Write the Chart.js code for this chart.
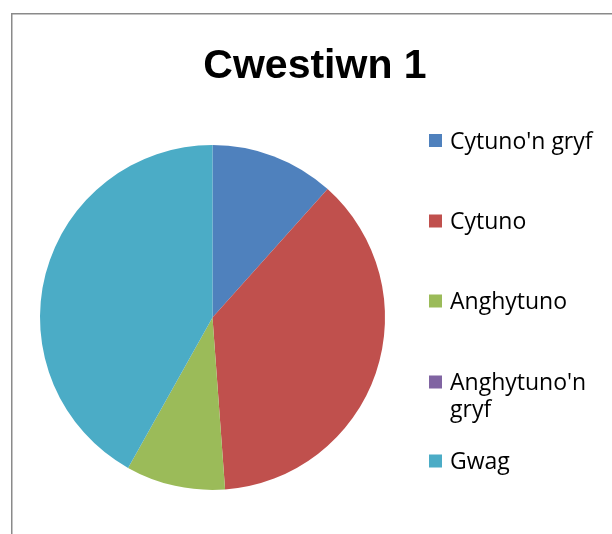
<!DOCTYPE html>
<html>
<head>
<meta charset="utf-8">
<script src="https://cdn.jsdelivr.net/npm/chart.js@4/dist/chart.umd.min.js"></script>
<style>
html,body{margin:0;padding:0;background:#fff;}
#wrap{position:relative;width:612px;height:534px;}
</style>
</head>
<body>
<div id="wrap"><canvas id="c" width="612" height="534"></canvas></div>
<script>
const chartTitle = "Cwestiwn 1";
const categories = ["Cytuno'n gryf", "Cytuno", "Anghytuno", "Anghytuno'n gryf", "Gwag"];
const legendLines = [["Cytuno'n gryf"], ["Cytuno"], ["Anghytuno"], ["Anghytuno'n", "gryf"], ["Gwag"]];
const values = [5, 16, 4, 0, 18];
const colors = ["#4F81BD", "#C0504D", "#9BBB59", "#8064A2", "#4BACC6"];

const framePlugin = {
  id: 'frame',
  beforeDraw(chart) {
    const ctx = chart.ctx;
    ctx.save();
    ctx.fillStyle = '#ffffff';
    ctx.fillRect(0, 0, chart.width, chart.height);
    ctx.strokeStyle = '#8a8a8a';
    ctx.lineWidth = 1.5;
    ctx.beginPath();
    ctx.moveTo(11.75, chart.height + 2);
    ctx.lineTo(11.75, 13.75);
    ctx.lineTo(chart.width + 2, 13.75);
    ctx.stroke();
    ctx.restore();
  },
  afterDraw(chart) {
    const ctx = chart.ctx;
    ctx.save();
    // title
    ctx.fillStyle = '#000';
    ctx.font = 'bold 41px "Liberation Sans", Arial, sans-serif';
    ctx.textAlign = 'center';
    ctx.textBaseline = 'alphabetic';
    ctx.fillText(chartTitle, 315, 78);
    // legend
    const centers = [140.5, 221, 301, 382, 461];
    ctx.font = '23px "Open Sans", sans-serif';
    ctx.textAlign = 'left';
    const ds = chart.data.datasets[0];
    legendLines.forEach((lines, i) => {
      const cy = centers[i];
      ctx.fillStyle = ds.backgroundColor[i];
      ctx.fillRect(429, cy - 6.5, 13, 13);
      ctx.fillStyle = '#000';
      lines.forEach((t, j) => {
        ctx.fillText(t, 450, cy + 8 + j * 27);
      });
    });
    ctx.restore();
  }
};

new Chart(document.getElementById('c'), {
  type: 'pie',
  data: {
    labels: categories,
    datasets: [{
      data: values,
      backgroundColor: colors,
      borderWidth: 0
    }]
  },
  options: {
    responsive: false,
    animation: false,
    devicePixelRatio: 1,
    layout: { padding: { left: 40, right: 227, top: 145, bottom: 44 } },
    plugins: {
      legend: { display: false },
      title: { display: false },
      tooltip: { enabled: false }
    }
  },
  plugins: [framePlugin]
});
</script>
</body>
</html>
